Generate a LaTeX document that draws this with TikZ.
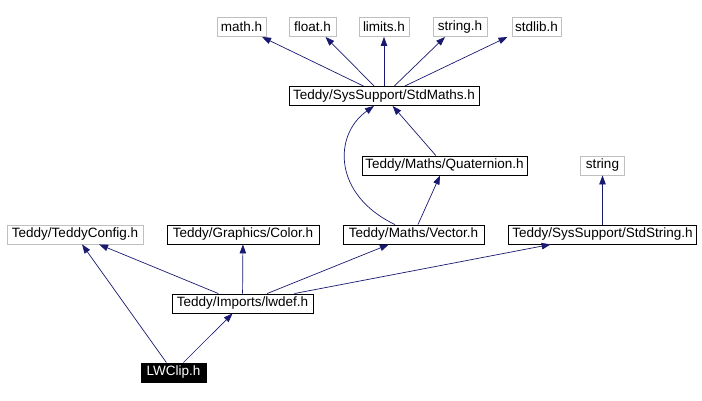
\documentclass[tikz,border=0pt]{standalone}
\usepackage{fontspec}
\setmainfont{Liberation Sans}
\usetikzlibrary{arrows.meta}
\definecolor{edgeBlue}{HTML}{191970}
\definecolor{sysGray}{HTML}{BFBFBF}

\begin{document}
\begin{tikzpicture}[x=1pt, y=-1pt,
    file/.style={rectangle, draw=black, fill=white, line width=0.9pt,
                 minimum width=#1, minimum height=19pt, inner sep=0pt,
                 font=\fontsize{13.5}{15}\selectfont},
    sys/.style={file=#1, draw=sysGray},
    cur/.style={file=#1, fill=black, text=white},
    dep/.style={draw=edgeBlue, line width=0.7pt,
                -{Triangle[length=9pt, width=6.5pt]}},
  ]
    \useasboundingbox (0,0) rectangle (702,401);

    % system headers
    \node[sys=49pt] (math) at (241.5,27) {math.h};
    \node[sys=47pt] (float) at (312.5,27) {float.h};
    \node[sys=50pt] (limits) at (384,27) {limits.h};
    \node[sys=54pt] (strh) at (460,27) {string.h};
    \node[sys=49pt] (stdlib) at (536.5,27) {stdlib.h};

    \node[file=190pt] (maths) at (384,96) {Teddy/SysSupport/StdMaths.h};
    \node[file=165pt] (quat) at (444.5,165.5) {Teddy/Maths/Quaternion.h};
    \node[sys=44pt] (string) at (602.5,165.5) {string};

    \node[sys=136pt] (tconf) at (75,234.5) {Teddy/TeddyConfig.h};
    \node[file=152pt] (color) at (243,234.5) {Teddy/Graphics/Color.h};
    \node[file=141pt] (vec) at (413.5,234.5) {Teddy/Maths/Vector.h};
    \node[file=188pt] (stdstr) at (602.5,234.5) {Teddy/SysSupport/StdString.h};

    \node[file=141pt] (lwdef) at (242.5,303.5) {Teddy/Imports/lwdef.h};
    \node[cur=65pt] (lwclip) at (173.5,372.5) {LWClip.h};

    \draw[dep] (maths) -- (math);
    \draw[dep] (maths) -- ([xshift=13pt]float.south);
    \draw[dep] (maths) -- (limits);
    \draw[dep] (maths) -- ([xshift=-15pt]strh.south);
    \draw[dep] (maths) -- ([xshift=-29pt]stdlib.south);

    \draw[dep] (quat) -- (maths);
    \draw[dep] ([xshift=-18.5pt]vec.north) .. controls (333,195) and (333,135)
      .. ([xshift=-10pt]maths.south);
    \draw[dep] (vec) -- (quat);
    \draw[dep] (stdstr) -- (string);

    \draw[dep] (lwdef) -- (tconf);
    \draw[dep] (lwdef) -- (color);
    \draw[dep] (lwdef) -- (vec);
    \draw[dep] (lwdef) -- (stdstr);

    \draw[dep] (lwclip) -- (tconf);
    \draw[dep] (lwclip) -- (lwdef);
  \end{tikzpicture}
\end{document}
